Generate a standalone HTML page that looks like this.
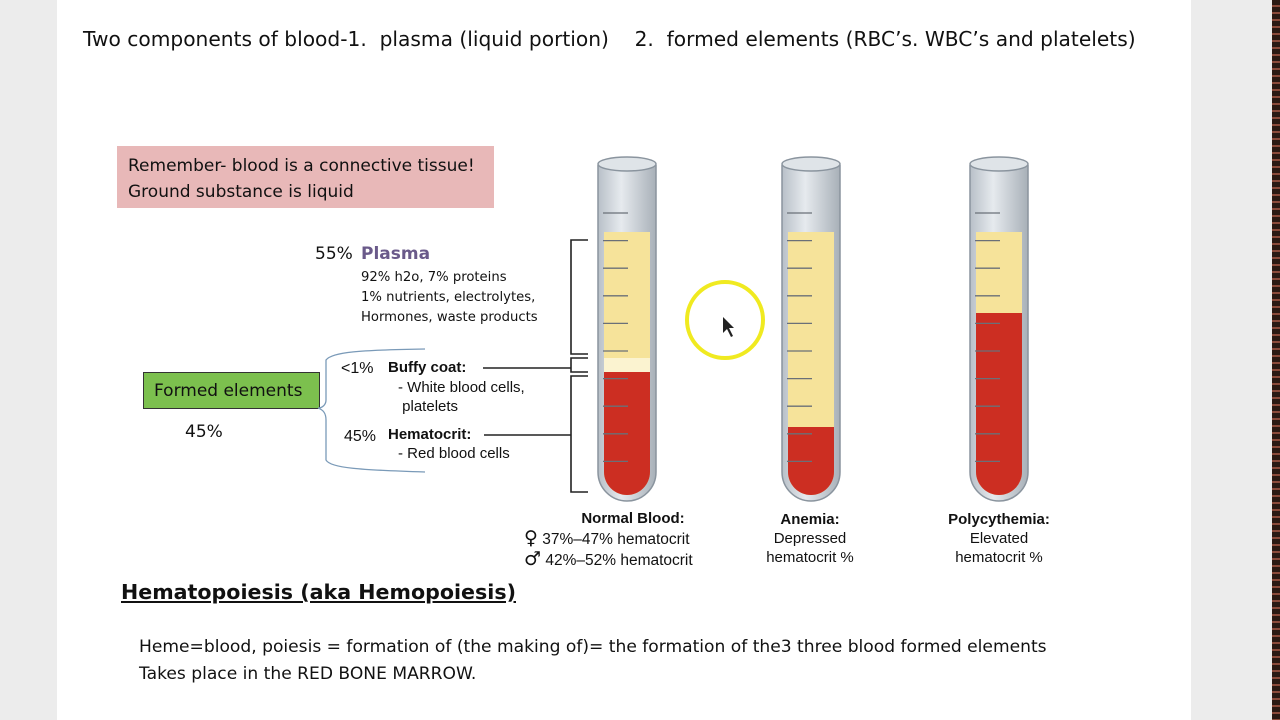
<!DOCTYPE html>
<html><head><meta charset="utf-8"><style>
body{margin:0;width:1280px;height:720px;position:relative;background:#fff;font-family:"Liberation Sans","DejaVu Sans",sans-serif;overflow:hidden}
.t{position:absolute;white-space:nowrap;color:#111}
.c{font-family:"DejaVu Sans","Liberation Sans",sans-serif}
</style></head><body>
<div style="position:absolute;left:0;top:0;width:57px;height:720px;background:#ececec"></div>
<div style="position:absolute;left:1191px;top:0;width:81px;height:720px;background:#ececec"></div>
<div style="position:absolute;left:1272px;top:0;width:8px;height:720px;background:repeating-linear-gradient(#2a1a14 0 5px,#8a4a3a 5px 7px)"></div>

<div class="t c" style="left:83px;top:27px;font-size:20.2px;">Two components of blood-1.&nbsp; plasma (liquid portion)&nbsp;&nbsp;&nbsp; 2.&nbsp; formed elements (RBC’s. WBC’s and platelets)</div>

<div style="position:absolute;left:117px;top:146px;width:377px;height:62px;background:#e8b8b8"></div>
<div class="t c" style="left:128px;top:153px;font-size:17px;line-height:26px;">Remember- blood is a connective tissue!<br>Ground substance is liquid</div>

<div class="t c" style="left:315px;top:244px;font-size:17px;">55%</div>
<div class="t c" style="left:361px;top:244px;font-size:17px;font-weight:bold;color:#6a5a8a">Plasma</div>
<div class="t c" style="left:361px;top:268px;font-size:13.2px;line-height:20px;">92% h2o, 7% proteins<br>1% nutrients, electrolytes,<br>Hormones, waste products</div>

<div style="position:absolute;left:143px;top:372px;width:175px;height:35px;background:#7cc04e;border:1px solid #333"></div>
<div class="t c" style="left:154px;top:381px;font-size:17px;">Formed elements</div>
<div class="t c" style="left:185px;top:422px;font-size:17px;">45%</div>

<div class="t" style="left:341px;top:360px;font-size:16px;">&lt;1%</div>
<div class="t" style="left:388px;top:359px;font-size:15px;font-weight:bold;">Buffy coat:</div>
<div class="t" style="left:398px;top:378px;font-size:15px;line-height:19px;">- White blood cells,<br>&nbsp;platelets</div>
<div class="t" style="left:344px;top:428px;font-size:16px;">45%</div>
<div class="t" style="left:388px;top:426px;font-size:15px;font-weight:bold;">Hematocrit:</div>
<div class="t" style="left:398px;top:445px;font-size:15px;">- Red blood cells</div>

<div class="t" style="left:538px;top:510px;width:190px;text-align:center;font-size:15px;font-weight:bold;">Normal Blood:</div>
<div class="t" style="left:524px;top:529px;font-size:15.5px;line-height:20px;"><span class="c" style="font-size:19px;line-height:18px">♀</span> 37%–47% hematocrit<br><span class="c" style="font-size:19px;line-height:18px">♂</span> 42%–52% hematocrit</div>
<div class="t" style="left:740px;top:510px;width:140px;text-align:center;font-size:15px;line-height:19px;"><b>Anemia:</b><br>Depressed<br>hematocrit %</div>
<div class="t" style="left:924px;top:510px;width:150px;text-align:center;font-size:15px;line-height:19px;"><b>Polycythemia:</b><br>Elevated<br>hematocrit %</div>

<div class="t c" style="left:121px;top:580px;font-size:20.6px;font-weight:bold;text-decoration:underline;">Hematopoiesis (aka Hemopoiesis)</div>
<div class="t c" style="left:139px;top:634px;font-size:17.1px;line-height:27px;">Heme=blood, poiesis = formation of (the making of)= the formation of the3 three blood formed elements<br>Takes place in the RED BONE MARROW.</div>

<svg width="1280" height="720" style="position:absolute;left:0;top:0">
<defs>
<linearGradient id="g" x1="0" x2="1"><stop offset="0" stop-color="#b8c0c8"/><stop offset=".4" stop-color="#e6eaee"/><stop offset="1" stop-color="#a8b0b8"/></linearGradient>
</defs>
<g fill="none" stroke="#222" stroke-width="1.6">
<path d="M588 240H571V354H588"/>
<path d="M588 358H571V372H588"/>
<path d="M588 376H571V492H588"/>
<path d="M483 368H571"/><path d="M484 435H571"/>
</g>
<path d="M425 349 C360 350 332 352 326 360 V400 C326 405 322 408 318 408 M318 408 C324 410 326 414 326 420 V460 C330 468 360 470 425 472" fill="none" stroke="#7a9ab8" stroke-width="1.3"/>
<circle cx="725" cy="320" r="38" fill="none" stroke="#f0ea20" stroke-width="4"/>
<path d="M723 317 L723 333 L727 329 L731 337 L733 336 L729 328 L734 328 Z" fill="#222"/>
<g id="tubes"></g>
</svg>
<script>
const tubes=[[598,232,358,372],[782,232,427,427],[970,232,313,313]];
let s='';
for(const [x,y1,w1,r] of tubes){
 const L=x,R=x+58;
 s+=`<path d="M${L} 165 V472 A29 29 0 0 0 ${R} 472 V165" fill="url(#g)" stroke="#8a949e" stroke-width="1.5"/>`;
 s+=`<ellipse cx="${L+29}" cy="164" rx="29" ry="7" fill="#dfe4e8" stroke="#8a949e" stroke-width="1.5"/>`;
 s+=`<path d="M${L+6} ${y1} H${R-6} V472 A23 23 0 0 1 ${L+6} 472 Z" fill="#f6e39a"/>`;
 if(w1!=r) s+=`<rect x="${L+6}" y="${w1}" width="46" height="${r-w1}" fill="#fbf3d0"/>`;
 s+=`<path d="M${L+6} ${r} H${R-6} V472 A23 23 0 0 1 ${L+6} 472 Z" fill="#cc2e22"/>`;
 for(let k=0;k<10;k++){const yy=213+k*27.6;s+=`<line x1="${L+5}" y1="${yy}" x2="${L+30}" y2="${yy}" stroke="#6a7078" stroke-width="1.3"/>`;}
}
document.getElementById('tubes').innerHTML=s;
</script>
</body></html>
